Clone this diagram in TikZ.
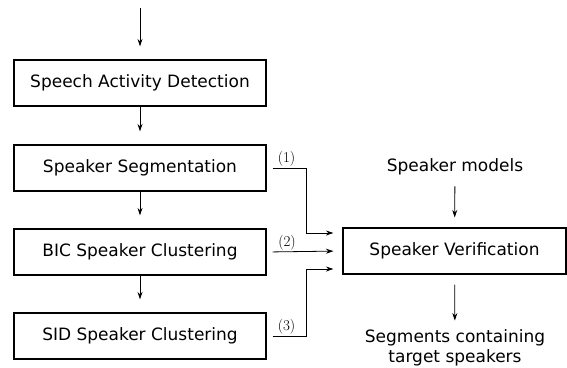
\documentclass[tikz,border=0pt]{standalone}
\usepackage{fontspec}
\setsansfont{DejaVu Sans}
\usetikzlibrary{arrows.meta}

\tikzset{
  stage/.style={draw, line width=1.1pt, minimum width=252pt, minimum height=46pt,
    inner sep=0pt, font=\sffamily\fontsize{17}{20}\selectfont},
  plain/.style={align=center, inner sep=1pt, font=\sffamily\fontsize{17}{20}\selectfont},
  flow/.style={-{Stealth[length=7.5pt,width=5pt]}, line width=0.8pt},
  tag/.style={inner sep=1.5pt, font=\fontsize{15}{15}\selectfont}
}

\begin{document}
\begin{tikzpicture}[x=1pt, y=-1pt]
\useasboundingbox (0,0) rectangle (567,367);

\coordinate (in) at (140,8);
\node[stage] (sad) at (140,83) {Speech Activity Detection};
\node[stage] (seg) at (140,168) {Speaker Segmentation};
\node[stage] (bic) at (140,252) {BIC Speaker Clustering};
\node[stage] (sid) at (140,336) {SID Speaker Clustering};
\node[stage, minimum width=223pt] (verif) at (454.5,251) {Speaker Verification};
\node[plain] (models) at (455,167) {Speaker models};
\node[plain] (out) at (455,348) {Segments containing\\target speakers};

\draw[flow, shorten >=13pt] (in) -- (sad);
\draw[flow, shorten >=13pt] (sad) -- (seg);
\draw[flow, shorten >=13pt] (seg) -- (bic);
\draw[flow, shorten >=13pt] (bic) -- (sid);
\draw[flow, shorten <=10pt, shorten >=10pt] (models) -- (verif);
\draw[flow, shorten <=10pt, shorten >=8pt] (verif) -- (out);

\draw[flow, shorten <=6pt, shorten >=9pt] (seg.east) -- node[tag, above] {(1)} ++(40,0) |- ([yshift=18pt]verif.west);
\draw[flow, shorten <=6pt, shorten >=9pt] (bic.east) -- node[tag, above, pos=0.27] {(2)} (verif.west);
\draw[flow, shorten <=6pt, shorten >=9pt] (sid.east) -- node[tag, above] {(3)} ++(40,0) |- ([yshift=-18pt]verif.west);
\end{tikzpicture}
\end{document}
